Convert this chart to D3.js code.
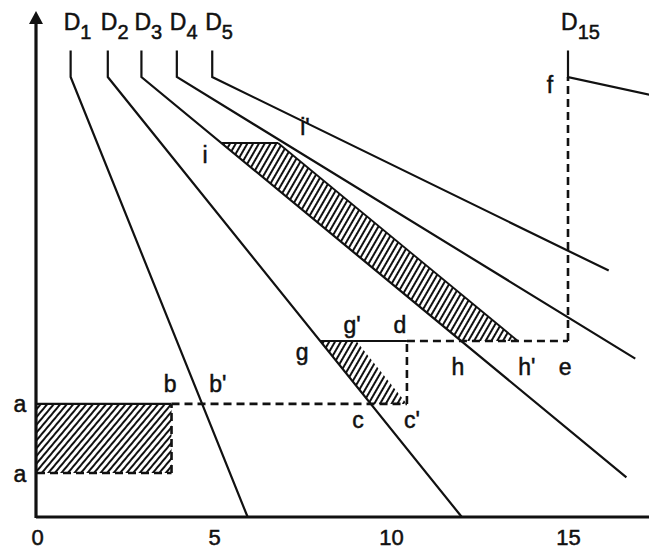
<!DOCTYPE html>
<html><head><meta charset="utf-8">
<script src="https://cdn.jsdelivr.net/npm/d3@7"></script>
<style>
body{margin:0;background:#fff;}
svg{display:block;font-family:"Liberation Sans",Arial,Helvetica,sans-serif;}
svg text{stroke:#111;stroke-width:0.5px;}
</style></head><body>
<svg id="chart" width="649" height="550"></svg>
<script>
// demand curves: short vertical stub at the top, kink, then straight down
const demandNames = ["1","2","3","4","5","15"];
const demandTopQ = [0.95, 2, 2.95, 3.95, 4.95, 15];
const demandEndQ = [5.95, 12, 16.65, 16.9, 16.15, 17.3];
const demandEndP = [0, 0, 0.9, 3.6, 5.6, 9.6];
const stubTopP = 10.6, kinkP = 10;

const quantityTicks = [0, 5, 10, 15];

// price levels: a, lower a, g-d-e line, i-i' line
const priceA = 2.57, priceALow = 1.0, priceG = 4.0, priceI = 8.5;
const qB = 3.8, qD = 10.45, qE = 15;
const bandShift = 1.6;

const labelText = ["a","a","b","b'","c","c'","g","g'","d","h","h'","e","i","i'","f"];
const labelQ = [-0.48,-0.48,3.76,5.11,9.07,10.59,7.49,8.9,10.25,11.89,13.84,14.92,4.75,7.57,14.49];
const labelP = [2.39,0.8,2.84,2.84,2.02,2.02,3.57,4.18,4.18,3.23,3.23,3.23,8.05,8.68,9.64];

const svg = d3.select("#chart");
const x = d3.scaleLinear().domain([0, 15]).range([37, 568]);
const y = d3.scaleLinear().domain([0, 10]).range([517, 77]);
const line = d3.line().x(d => x(d[0])).y(d => y(d[1]));

// quantity on demand curve k at price p
function demandQ(k, p) {
  return demandTopQ[k] + (demandEndQ[k] - demandTopQ[k]) * (kinkP - p) / (kinkP - demandEndP[k]);
}

// hatch patterns
const defs = svg.append("defs");
function hatch(id, angle) {
  let pat = defs.append("pattern").attr("id", id)
    .attr("patternUnits", "userSpaceOnUse")
    .attr("width", 5).attr("height", 5)
    .attr("patternTransform", "rotate(" + angle + ")");
  pat.append("rect").attr("width", 2).attr("height", 5).attr("fill", "#111");
}
hatch("hatchA", 40);
hatch("hatchB", 30);

// shaded areas
let rectArea = [[0, priceALow], [qB, priceALow], [qB, priceA], [0, priceA]];
let gQ = demandQ(1, priceG), cQ = demandQ(1, priceA);
let shift1 = qD - cQ;
let gArea = [[gQ, priceG], [gQ + shift1, priceG], [qD, priceA], [cQ, priceA]];
let iQ = demandQ(2, priceI), hQ = demandQ(2, priceG);
let band = [[iQ, priceI], [iQ + bandShift, priceI], [hQ + bandShift, priceG], [hQ, priceG]];

svg.append("path").attr("d", line(rectArea) + "Z").attr("fill", "url(#hatchA)");
svg.append("path").attr("d", line(gArea) + "Z").attr("fill", "url(#hatchB)");
svg.append("path").attr("d", line(band) + "Z").attr("fill", "url(#hatchB)");

// demand curves
demandNames.forEach((n, k) => {
  let pts = [[demandTopQ[k], stubTopP], [demandTopQ[k], kinkP], [demandEndQ[k], demandEndP[k]]];
  svg.append("path").attr("d", line(pts))
    .attr("fill", "none").attr("stroke", "#111").attr("stroke-width", 2.2);
  let t = svg.append("text")
    .attr("x", x(demandTopQ[k]) - 7).attr("y", 30)
    .attr("font-size", 23).attr("fill", "#111").text("D");
  t.append("tspan").attr("dy", 9).attr("font-size", 20).text(n);
});

// band edge
svg.append("path").attr("d", line([[iQ + bandShift, priceI], [hQ + bandShift, priceG]]))
  .attr("fill", "none").attr("stroke", "#111").attr("stroke-width", 1.8);

// solid guide lines
let solid = [
  [[0, priceA], [qB, priceA]],
  [[gQ, priceG], [qD, priceG]],
  [[iQ, priceI], [iQ + bandShift, priceI]]
];
solid.forEach(s => svg.append("path").attr("d", line(s))
  .attr("fill", "none").attr("stroke", "#111").attr("stroke-width", 2.2));

// dashed guide lines
let dashed = [
  [[qB, priceA], [qD, priceA]],
  [[0, priceALow], [qB, priceALow]],
  [[qB, priceALow], [qB, priceA]],
  [[qD, priceA], [qD, priceG]],
  [[qD, priceG], [qE, priceG]],
  [[qE, priceG], [qE, kinkP]]
];
dashed.forEach(s => svg.append("path").attr("d", line(s))
  .attr("fill", "none").attr("stroke", "#111").attr("stroke-width", 2.6)
  .attr("stroke-dasharray", "8,5"));

// axes
svg.append("line").attr("x1", 36).attr("x2", 649).attr("y1", 517).attr("y2", 517)
  .attr("stroke", "#111").attr("stroke-width", 3);
svg.append("line").attr("x1", 36).attr("x2", 36).attr("y1", 518).attr("y2", 20)
  .attr("stroke", "#111").attr("stroke-width", 3.2);
svg.append("path").attr("d", "M36,11L29,24L43,24Z").attr("fill", "#111");

let xAxis = svg.append("g").attr("transform", "translate(0,517)")
  .call(d3.axisBottom(x).tickValues(quantityTicks).tickSize(0).tickPadding(12).tickFormat(d3.format("d")));
xAxis.select(".domain").remove();
xAxis.selectAll("text").attr("font-size", 22).attr("fill", "#111")
  .attr("font-family", "'Liberation Sans',Arial,sans-serif");

// point labels
labelText.forEach((t, k) => {
  svg.append("text").attr("x", x(labelQ[k])).attr("y", y(labelP[k]))
    .attr("text-anchor", "middle").attr("font-size", 23).attr("fill", "#111").text(t);
});
</script>
</body></html>
